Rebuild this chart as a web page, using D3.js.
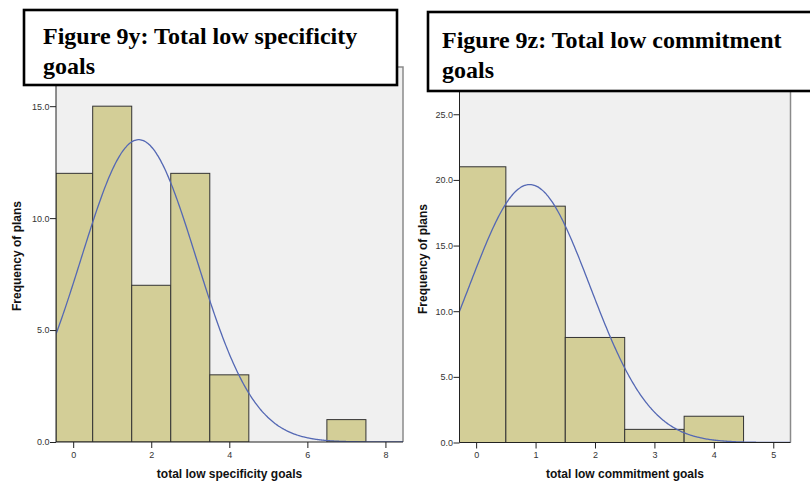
<!DOCTYPE html>
<html>
<head>
<meta charset="utf-8">
<script src="https://cdn.jsdelivr.net/npm/d3@7"></script>
<style>
  html, body { margin: 0; padding: 0; background: #fff; }
  svg { display: block; }
</style>
</head>
<body>
<svg id="chart" width="810" height="486"></svg>
<script>
// ---- Data ----
// Figure 9y: total low specificity goals (bin centres and counts)
const specCategories = [0, 1, 2, 3, 4, 5, 6, 7];
const specCounts     = [12, 15, 7, 12, 3, 0, 0, 1];
const specXTicks     = [0, 2, 4, 6, 8];
const specYTicks     = [0, 5, 10, 15];

// Figure 9z: total low commitment goals
const commCategories = [0, 1, 2, 3, 4];
const commCounts     = [21, 18, 8, 1, 2];
const commXTicks     = [0, 1, 2, 3, 4, 5];
const commYTicks     = [0, 5, 10, 15, 20, 25];

const titles = [
  ["Figure 9y: Total low specificity", "goals"],
  ["Figure 9z: Total low commitment", "goals"]
];
const xTitles = ["total low specificity goals", "total low commitment goals"];
const yTitle = "Frequency of plans";

const svg = d3.select("#chart");

function drawHist(cfg) {
  const { cats, counts, xTicks, yTicks, xDomain, yDomain, left, right, top, bottom, xTitle, titleLines, box } = cfg;
  const g = svg.append("g");
  const x = d3.scaleLinear().domain(xDomain).range([left, right]);
  const y = d3.scaleLinear().domain(yDomain).range([bottom, top]);

  // plot background
  g.append("rect")
    .attr("x", left).attr("y", top)
    .attr("width", right - left).attr("height", bottom - top)
    .attr("fill", "#f0f0f0");
  // right / top frame edge (grey)
  g.append("path")
    .attr("d", `M${left},${top}H${right}V${bottom}`)
    .attr("fill", "none").attr("stroke", "#8a8a8a").attr("stroke-width", 1.5);

  const clipId = "clip" + Math.round(left);
  g.append("clipPath").attr("id", clipId).append("rect")
    .attr("x", left).attr("y", top).attr("width", right - left).attr("height", bottom - top);

  const data = cats.map((c, i) => ({ c, n: counts[i] })).filter(d => d.n > 0);
  g.append("g").attr("clip-path", `url(#${clipId})`)
    .selectAll("rect").data(data).join("rect")
    .attr("x", d => Math.max(left, x(d.c - 0.5)))
    .attr("y", d => y(d.n))
    .attr("width", d => x(d.c + 0.5) - Math.max(left, x(d.c - 0.5)))
    .attr("height", d => y(0) - y(d.n))
    .attr("fill", "#d3ce97")
    .attr("stroke", "#333")
    .attr("stroke-width", 1);

  // normal curve fitted to the data
  let N = 0, s = 0, ss = 0;
  cats.forEach((c, i) => { N += counts[i]; s += c * counts[i]; ss += c * c * counts[i]; });
  const mean = s / N;
  const sd = Math.sqrt((ss - N * mean * mean) / (N - 1));
  const xs = d3.range(xDomain[0], xDomain[1] + 0.001, (xDomain[1] - xDomain[0]) / 300);
  const line = d3.line()
    .x(v => x(v))
    .y(v => y(N / (sd * Math.sqrt(2 * Math.PI)) * Math.exp(-0.5 * ((v - mean) / sd) ** 2)))
    .curve(d3.curveBasis);
  g.append("path").attr("clip-path", `url(#${clipId})`)
    .datum(xs).attr("d", line)
    .attr("fill", "none").attr("stroke", "#5468b4").attr("stroke-width", 1.3);

  // axes
  const yAxis = d3.axisLeft(y).tickValues(yTicks).tickFormat(d3.format(".1f")).tickSize(6).tickSizeOuter(0);
  const ya = g.append("g").attr("transform", `translate(${left},0)`).call(yAxis);
  ya.select(".domain").attr("d", `M0,${top}V${bottom}`).attr("stroke", "#222");
  ya.selectAll(".tick line").attr("stroke", "#222");
  ya.selectAll("text").attr("font-family", "Liberation Sans, Arial, sans-serif").attr("font-size", 9).attr("fill", "#333").attr("x", -6.5);

  const xAxis = d3.axisBottom(x).tickValues(xTicks).tickFormat(d3.format("d")).tickSize(6).tickSizeOuter(0);
  const xa = g.append("g").attr("transform", `translate(0,${bottom})`).call(xAxis);
  xa.select(".domain").attr("d", `M${left},0H${right}`).attr("stroke", "#222");
  xa.selectAll(".tick line").attr("stroke", "#222");
  xa.selectAll("text").attr("font-family", "Liberation Sans, Arial, sans-serif").attr("font-size", 9).attr("fill", "#333").attr("y", 9.5);

  // axis titles
  g.append("text")
    .attr("x", (left + right) / 2).attr("y", 478)
    .attr("text-anchor", "middle")
    .attr("font-family", "Liberation Sans, Arial, sans-serif").attr("font-weight", "bold").attr("font-size", 12)
    .attr("fill", "#111")
    .text(xTitle);
  g.append("text")
    .attr("transform", `translate(${cfg.yTitleX},${cfg.yTitleY}) rotate(-90)`)
    .attr("text-anchor", "middle")
    .attr("font-family", "Liberation Sans, Arial, sans-serif").attr("font-weight", "bold").attr("font-size", 12)
    .attr("fill", "#111")
    .text(yTitle);

  // title box
  g.append("rect")
    .attr("x", box.x).attr("y", box.y).attr("width", box.w).attr("height", box.h)
    .attr("fill", "#fff").attr("stroke", "#000").attr("stroke-width", 2.6);
  titleLines.forEach((t, i) => {
    g.append("text")
      .attr("x", box.tx).attr("y", box.ty + i * 30)
      .attr("font-family", "Liberation Serif, 'Times New Roman', serif")
      .attr("font-weight", "bold").attr("font-size", 24)
      .attr("fill", "#000")
      .text(t);
  });
}

drawHist({
  cats: specCategories, counts: specCounts, xTicks: specXTicks, yTicks: specYTicks,
  xDomain: [-0.44, 8.45], yDomain: [0, 16.75],
  left: 56, right: 403, top: 67, bottom: 442,
  xTitle: xTitles[0], titleLines: titles[0],
  yTitleX: 21, yTitleY: 256,
  box: { x: 24, y: 10, w: 373, h: 75, tx: 43, ty: 44 }
});

drawHist({
  cats: commCategories, counts: commCounts, xTicks: commXTicks, yTicks: commYTicks,
  xDomain: [-0.28, 5.29], yDomain: [0, 27],
  left: 459.5, right: 790.5, top: 88, bottom: 442.5,
  xTitle: xTitles[1], titleLines: titles[1],
  yTitleX: 427, yTitleY: 259,
  box: { x: 428, y: 12, w: 400, h: 79, tx: 442, ty: 48 }
});
</script>
</body>
</html>
